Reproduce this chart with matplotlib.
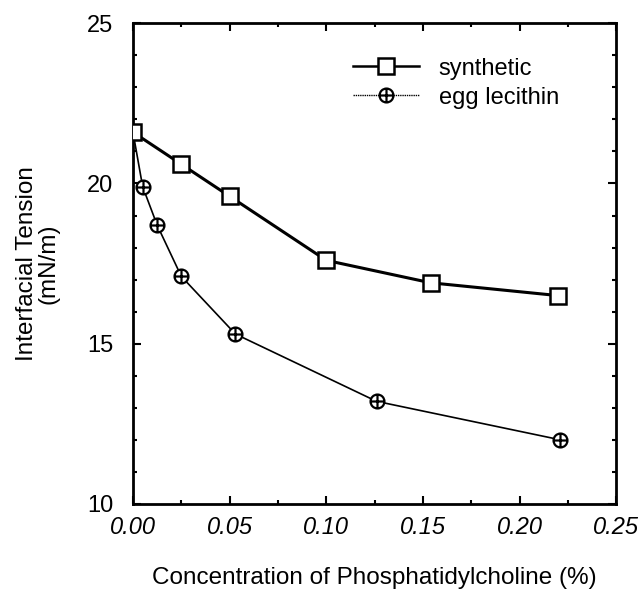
import matplotlib
matplotlib.use("Agg")
import matplotlib.pyplot as plt
from matplotlib.path import Path
from matplotlib.lines import Line2D
from matplotlib.ticker import MultipleLocator, FormatStrFormatter

plt.rcParams['font.family'] = ['Liberation Sans', 'DejaVu Sans']

# data
synthetic_x = [0.0, 0.025, 0.05, 0.10, 0.154, 0.22]
synthetic_y = [21.6, 20.6, 19.6, 17.6, 16.9, 16.5]
egg_x = [0.0, 0.005, 0.0125, 0.025, 0.053, 0.126, 0.221]
egg_y = [21.6, 19.9, 18.7, 17.1, 15.3, 13.2, 12.0]

# circle with a cross inside
circ_plus = Path.make_compound_path(
    Path.unit_circle(),
    Path([(-1, 0), (1, 0)], [Path.MOVETO, Path.LINETO]),
    Path([(0, -1), (0, 1)], [Path.MOVETO, Path.LINETO]),
)

fig = plt.figure(figsize=(6.44, 5.97), dpi=100)
ax = fig.add_axes([0.2065, 0.156, 0.7505, 0.805])

egg_style = dict(color='black', marker=circ_plus, ms=10, mfc='white',
                 mec='black', mew=1.6)
syn_style = dict(color='black', marker='s', ms=11.5, mfc='white',
                 mec='black', mew=1.8)

ax.plot(egg_x, egg_y, lw=1.2, zorder=2, **egg_style)
ax.plot(synthetic_x, synthetic_y, lw=2.2, zorder=3, **syn_style)

ax.set_xlim(0, 0.25)
ax.set_ylim(10, 25)
ax.xaxis.set_major_locator(MultipleLocator(0.05))
ax.xaxis.set_minor_locator(MultipleLocator(0.025))
ax.yaxis.set_major_locator(MultipleLocator(5))
ax.yaxis.set_minor_locator(MultipleLocator(1))
ax.xaxis.set_major_formatter(FormatStrFormatter('%.2f'))
ax.tick_params(which='both', direction='in', top=True, right=True, width=1.5)
ax.tick_params(which='major', length=6, labelsize=17)
ax.tick_params(axis='x', which='major', pad=9)
ax.tick_params(axis='y', which='major', pad=14)
ax.tick_params(which='minor', length=3)
for lab in ax.get_xticklabels():
    lab.set_fontstyle('italic')
for sp in ax.spines.values():
    sp.set_linewidth(2)

ax.set_xlabel('Concentration of Phosphatidylcholine (%)', fontsize=17.5, labelpad=20)
ax.set_ylabel('Interfacial Tension\n(mN/m)', fontsize=17.5, labelpad=20,
              linespacing=0.95)

handles = [Line2D([], [], lw=1.8, **syn_style),
           Line2D([], [], lw=1.0, ls=(0, (1, 0.6)), **egg_style)]
ax.legend(handles, ['synthetic', 'egg lecithin'], loc='upper left',
          bbox_to_anchor=(0.43, 0.953), borderpad=0, frameon=False,
          fontsize=17, handlelength=2.8, handletextpad=0.85,
          labelspacing=0.3)

fig.savefig('out.png', dpi=100)
